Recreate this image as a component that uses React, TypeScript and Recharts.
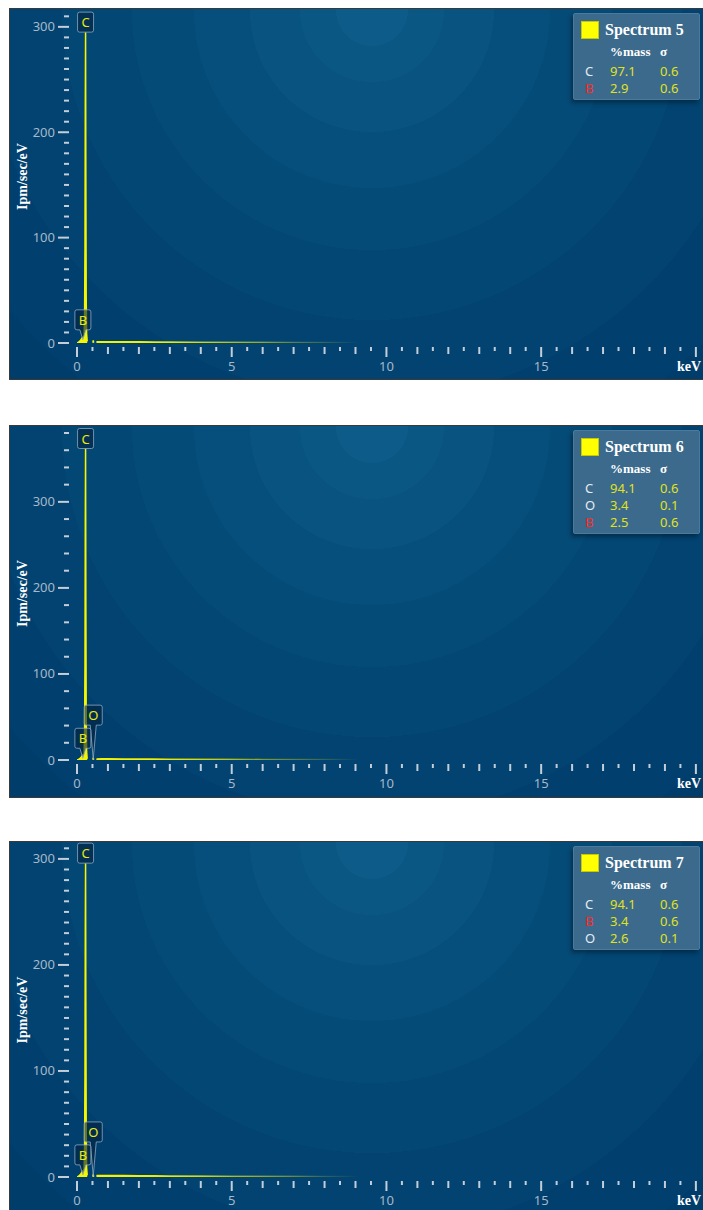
import React from 'react';
import { ComposedChart, Area, XAxis, YAxis, ReferenceDot, Legend } from 'recharts';

// ---------- data ----------
const ENERGY_KEV = [0, 0.05, 0.1, 0.14, 0.17, 0.19, 0.21, 0.23, 0.245, 0.258, 0.268, 0.277, 0.286, 0.297, 0.31, 0.33, 0.35, 0.5, 0.512, 0.525, 0.538, 0.55, 0.6, 0.63, 0.8, 1, 1.5, 2, 2.5, 3, 4, 5, 6, 7, 8, 9, 10, 12, 14, 16, 18, 20, 20.23];

const COUNTS_SPECTRUM_5 = [0, 0.8, 2, 3.5, 5, 5.5, 5, 7, 25, 90, 230, 295, 160, 45, 9, 1.5, null, null, 0.3, 2.5, 0.3, null, null, 1.2, 1.3, 1.3, 1.2, 1.1, 1.0, 0.9, 0.8, 0.7, 0.6, 0.5, 0.45, 0.4, 0.35, 0.3, 0.25, 0.2, 0.2, 0.15, 0.15];
const COUNTS_SPECTRUM_6 = [0, 0.8, 2, 3.5, 5, 6, 5.5, 8, 30, 110, 280, 362, 190, 55, 10, 1.5, null, null, 0.4, 2.5, 0.4, null, null, 1.3, 1.4, 1.4, 1.3, 1.2, 1.1, 1.0, 0.9, 0.8, 0.7, 0.6, 0.5, 0.45, 0.4, 0.35, 0.3, 0.25, 0.2, 0.2, 0.2];
const COUNTS_SPECTRUM_7 = [0, 0.8, 2, 3.5, 5, 6, 6, 8, 28, 95, 235, 296, 165, 48, 9, 1.5, null, null, 0.4, 2.5, 0.4, null, null, 1.3, 1.4, 1.4, 1.3, 1.2, 1.1, 1.0, 0.9, 0.8, 0.7, 0.6, 0.5, 0.45, 0.4, 0.35, 0.3, 0.25, 0.2, 0.2, 0.2];

const X_TICKS = [0, 0.5, 1, 1.5, 2, 2.5, 3, 3.5, 4, 4.5, 5, 5.5, 6, 6.5, 7, 7.5, 8, 8.5, 9, 9.5, 10, 10.5, 11, 11.5, 12, 12.5, 13, 13.5, 14, 14.5, 15, 15.5, 16, 16.5, 17, 17.5, 18, 18.5, 19, 19.5, 20];
const X_LABELED = [0, 5, 10, 15];
const X_LONG = [0, 5, 10, 15, 20];
const Y_TICKS_STEP10 = [0, 10, 20, 30, 40, 50, 60, 70, 80, 90, 100, 110, 120, 130, 140, 150, 160, 170, 180, 190, 200, 210, 220, 230, 240, 250, 260, 270, 280, 290, 300, 310];
const Y_TICKS_STEP20 = [0, 20, 40, 60, 80, 100, 120, 140, 160, 180, 200, 220, 240, 260, 280, 300, 320, 340, 360, 380];
const Y_LABELED = [0, 100, 200, 300];

const TITLES = ['Spectrum 5', 'Spectrum 6', 'Spectrum 7'];
const LEGEND_ELEMENTS_5 = ['C', 'B'];
const LEGEND_MASS_5 = ['97.1', '2.9'];
const LEGEND_SIGMA_5 = ['0.6', '0.6'];
const LEGEND_ELEMENTS_6 = ['C', 'O', 'B'];
const LEGEND_MASS_6 = ['94.1', '3.4', '2.5'];
const LEGEND_SIGMA_6 = ['0.6', '0.1', '0.6'];
const LEGEND_ELEMENTS_7 = ['C', 'B', 'O'];
const LEGEND_MASS_7 = ['94.1', '3.4', '2.6'];
const LEGEND_SIGMA_7 = ['0.6', '0.6', '0.1'];

const MARKER_ELEMENTS_5 = ['C', 'B'];
const MARKER_ENERGY_5 = [0.277, 0.19];
const MARKER_VALUE_5 = [295, 3];
const MARKER_ELEMENTS_6 = ['C', 'O', 'B'];
const MARKER_ENERGY_6 = [0.277, 0.525, 0.19];
const MARKER_VALUE_6 = [362, 1, 2];
const MARKER_ELEMENTS_7 = ['C', 'O', 'B'];
const MARKER_ENERGY_7 = [0.277, 0.525, 0.19];
const MARKER_VALUE_7 = [296, 1, 2];

// ---------- styles ----------
const FONT_SANS = '"Noto Sans", "Open Sans", "DejaVu Sans", sans-serif';
const FONT_SERIF = '"Liberation Serif", "Times New Roman", serif';
const TICK_COLOR = '#c3ced8';
const TICK_TEXT = '#a6b8c9';
const YELLOW = '#f6f600';
const VALUE_YELLOW = '#e0e21c';
const X_MAX = 20.23;
const MARKER_TAIL: Record<string, number> = { C: 0, B: 10, O: 34 };
const MARKER_W: Record<string, number> = { C: 16, B: 16, O: 18 };
const ELEMENT_COLOR: Record<string, string> = { C: '#e6ecf2', O: '#e6ecf2', B: '#ff2a2a' };

const BG = 'radial-gradient(circle at 362px 1px, #0d5b89 0px, #0d5b89 36px, #0a5784 36px, #0a5784 72px, #085380 72px, #085380 122px, #064f7c 122px, #064f7c 178px, #054b78 178px, #054b78 240px, #034774 240px, #034774 310px, #024371 310px, #024371 390px, #01406e 390px, #01406e 470px, #003d6b 470px)';

function XTick(props: any) {
  const { x, y, payload } = props;
  const v = payload.value;
  const len = X_LONG.includes(v) ? 10 : Number.isInteger(v) ? 7 : 4;
  return (
    <g>
      <line x1={x} x2={x} y1={y + 4} y2={y + 4 + len} stroke={TICK_COLOR} strokeWidth={2} />
      {X_LABELED.includes(v) && (
        <text x={x} y={y + 28} textAnchor="middle" fill={TICK_TEXT} fontSize={13} fontFamily={FONT_SANS}>
          {v}
        </text>
      )}
    </g>
  );
}

function YTick(props: any) {
  const { x, y, payload } = props;
  const v = payload.value;
  const major = Y_LABELED.includes(v);
  return (
    <g>
      <line x1={major ? x - 19 : x - 13} x2={x - 8} y1={y} y2={y} stroke={TICK_COLOR} strokeWidth={2} />
      {major && (
        <text x={x - 22} y={y + 4.5} textAnchor="end" fill={TICK_TEXT} fontSize={13} fontFamily={FONT_SANS}>
          {v}
        </text>
      )}
    </g>
  );
}

function YLabel(props: any) {
  const vb = props.viewBox || { x: 0, y: 0, width: 0, height: 0 };
  const cx = 12;
  const cy = vb.y + vb.height / 2;
  return (
    <text x={cx} y={cy} transform={`rotate(-90 ${cx} ${cy})`} textAnchor="middle" dominantBaseline="central" fill="#ffffff" fontSize={14} fontWeight="bold" fontFamily={FONT_SERIF}>
      Ipm/sec/eV
    </text>
  );
}

function KevLabel(props: any) {
  const vb = props.viewBox || { x: 0, y: 0, width: 0, height: 0 };
  return (
    <text x={vb.x + vb.width - 2} y={vb.y + 28} textAnchor="end" fill="#ffffff" fontSize={14} fontWeight="bold" fontFamily={FONT_SERIF}>
      keV
    </text>
  );
}

function ElementMarker({ cx, cy, label }: { cx: number; cy: number; label: string }) {
  const tail = MARKER_TAIL[label];
  const w = MARKER_W[label];
  const h = 20;
  const r = 2;
  const left = cx - w / 2;
  const right = cx + w / 2;
  const bottom = cy - tail;
  const top = bottom - h;
  const tailPart = tail > 0 ? `H ${cx + 3} L ${cx} ${cy} L ${cx - 3} ${bottom} ` : '';
  const d = `M ${left + r} ${top} H ${right - r} Q ${right} ${top} ${right} ${top + r} V ${bottom - r} Q ${right} ${bottom} ${right - r} ${bottom} ${tailPart}H ${left + r} Q ${left} ${bottom} ${left} ${bottom - r} V ${top + r} Q ${left} ${top} ${left + r} ${top} Z`;
  return (
    <g>
      <path d={d} fill="rgba(4,34,62,0.6)" stroke="rgba(150,175,196,0.75)" strokeWidth={1} />
      <text x={cx} y={top + h / 2 + 5} textAnchor="middle" fill="#eaea10" fontSize={13} fontFamily={FONT_SANS}>
        {label}
      </text>
    </g>
  );
}

function LegendBox({ title, elements, mass, sigma }: { title: string; elements: string[]; mass: string[]; sigma: string[] }) {
  const height = 53 + elements.length * 17;
  const rowStyle = (top: number): React.CSSProperties => ({ position: 'absolute', top, lineHeight: '16px', height: 16, whiteSpace: 'nowrap' });
  return (
    <div style={{ position: 'relative', width: 127, height, background: '#3b6a8c', border: '1px solid #4c7a9b', borderRadius: 2, boxShadow: '-2px 3px 4px rgba(0,0,0,0.35)', boxSizing: 'border-box' }}>
      <div style={{ position: 'absolute', left: 7, top: 7, width: 16, height: 16, background: '#ffff00', border: '1px solid #c8c800' }} />
      <div style={{ ...rowStyle(8), left: 31, color: '#ffffff', fontFamily: FONT_SERIF, fontWeight: 'bold', fontSize: 16 }}>{title}</div>
      <div style={{ ...rowStyle(30), left: 36, color: '#ffffff', fontFamily: FONT_SERIF, fontWeight: 'bold', fontSize: 13 }}>%mass</div>
      <div style={{ ...rowStyle(30), left: 86, color: '#ffffff', fontFamily: FONT_SERIF, fontWeight: 'bold', fontSize: 13 }}>σ</div>
      {elements.map((el, i) => (
        <React.Fragment key={el}>
          <div style={{ ...rowStyle(49 + i * 17), left: 11, color: ELEMENT_COLOR[el], fontFamily: FONT_SANS, fontSize: 13 }}>{el}</div>
          <div style={{ ...rowStyle(49 + i * 17), left: 36, color: VALUE_YELLOW, fontFamily: FONT_SANS, fontSize: 13 }}>{mass[i]}</div>
          <div style={{ ...rowStyle(49 + i * 17), left: 86, color: VALUE_YELLOW, fontFamily: FONT_SANS, fontSize: 13 }}>{sigma[i]}</div>
        </React.Fragment>
      ))}
    </div>
  );
}

type PanelProps = {
  id: string;
  title: string;
  counts: (number | null)[];
  yMax: number;
  yTicks: number[];
  elements: string[];
  mass: string[];
  sigma: string[];
  markerElements: string[];
  markerEnergy: number[];
  markerValue: number[];
  top: number;
  height: number;
  xAxisHeight: number;
};

function Panel(p: PanelProps) {
  const rows = ENERGY_KEV.map((e, i) => ({ e, v: p.counts[i] }));
  const gid = `fade-${p.id}`;
  return (
    <div style={{ position: 'absolute', left: 9, top: p.top, width: 693, height: p.height, border: '1px solid #3a3a3a', background: BG, overflow: 'hidden' }}>
      <ComposedChart width={693} height={p.height} data={rows} margin={{ top: 1, right: 0, bottom: 0, left: 0 }}>
        <defs>
          <linearGradient id={gid} x1="0" y1="0" x2="1" y2="0">
            <stop offset="0" stopColor={YELLOW} stopOpacity={1} />
            <stop offset="0.11" stopColor={YELLOW} stopOpacity={0.95} />
            <stop offset="0.25" stopColor={YELLOW} stopOpacity={0.5} />
            <stop offset="0.45" stopColor={YELLOW} stopOpacity={0} />
            <stop offset="1" stopColor={YELLOW} stopOpacity={0} />
          </linearGradient>
        </defs>
        <XAxis type="number" dataKey="e" domain={[0, X_MAX]} ticks={X_TICKS} interval={0} tick={<XTick />} tickLine={false} axisLine={false} tickSize={0} tickMargin={0} height={p.xAxisHeight} allowDataOverflow label={<KevLabel />} />
        <YAxis type="number" domain={[0, p.yMax]} ticks={p.yTicks} interval={0} tick={<YTick />} tickLine={false} axisLine={false} tickSize={0} tickMargin={0} width={67} allowDataOverflow label={<YLabel />} />
        <Area type="linear" dataKey="v" stroke={`url(#${gid})`} strokeWidth={1.5} fill={`url(#${gid})`} fillOpacity={1} connectNulls={false} dot={false} activeDot={false} isAnimationActive={false} />
        {p.markerElements.map((el, i) => (
          <ReferenceDot key={el} x={p.markerEnergy[i]} y={p.markerValue[i]} r={0} shape={(sp: any) => <ElementMarker cx={sp.cx} cy={sp.cy} label={el} />} />
        ))}
        <Legend layout="vertical" align="center" verticalAlign="middle" wrapperStyle={{ left: 563, top: 4, width: 127 }} content={() => <LegendBox title={p.title} elements={p.elements} mass={p.mass} sigma={p.sigma} />} />
      </ComposedChart>
    </div>
  );
}

export default function App() {
  return (
    <div style={{ position: 'absolute', left: 0, top: 0, width: 703, height: 1210, overflow: 'hidden', background: '#ffffff' }}>
      <Panel id="s5" title={TITLES[0]} counts={COUNTS_SPECTRUM_5} yMax={316} yTicks={Y_TICKS_STEP10} elements={LEGEND_ELEMENTS_5} mass={LEGEND_MASS_5} sigma={LEGEND_SIGMA_5} markerElements={MARKER_ELEMENTS_5} markerEnergy={MARKER_ENERGY_5} markerValue={MARKER_VALUE_5} top={8} height={370} xAxisHeight={36} />
      <Panel id="s6" title={TITLES[1]} counts={COUNTS_SPECTRUM_6} yMax={387} yTicks={Y_TICKS_STEP20} elements={LEGEND_ELEMENTS_6} mass={LEGEND_MASS_6} sigma={LEGEND_SIGMA_6} markerElements={MARKER_ELEMENTS_6} markerEnergy={MARKER_ENERGY_6} markerValue={MARKER_VALUE_6} top={425} height={371} xAxisHeight={37} />
      <Panel id="s7" title={TITLES[2]} counts={COUNTS_SPECTRUM_7} yMax={315} yTicks={Y_TICKS_STEP10} elements={LEGEND_ELEMENTS_7} mass={LEGEND_MASS_7} sigma={LEGEND_SIGMA_7} markerElements={MARKER_ELEMENTS_7} markerEnergy={MARKER_ENERGY_7} markerValue={MARKER_VALUE_7} top={841} height={370} xAxisHeight={35} />
    </div>
  );
}
